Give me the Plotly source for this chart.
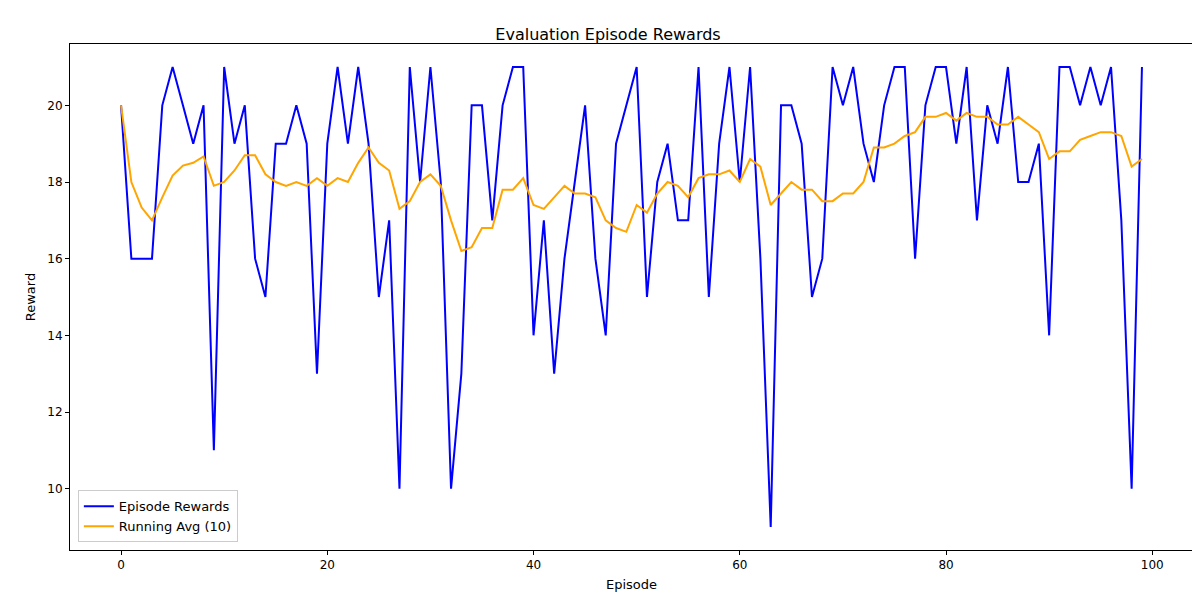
import plotly.graph_objects as go
import pandas as pd

episodes = list(range(100))
rewards = [20,16,16,16,20,21,20,19,20,11,
           21,19,20,16,15,19,19,20,19,13,
           19,21,19,21,19,15,17,10,21,18,
           21,18,10,13,20,20,17,20,21,21,
           14,17,13,16,18,20,16,14,19,20,
           21,15,18,19,17,17,21,15,19,21,
           18,21,16,9,20,20,19,15,16,21,
           20,21,19,18,20,21,21,16,20,21,
           21,19,21,17,20,19,21,18,18,19,
           14,21,21,20,21,20,21,17,10,21]
running_avg = pd.Series(rewards).rolling(10, min_periods=1).mean().tolist()

fig = go.Figure()
fig.add_trace(go.Scatter(x=episodes, y=rewards, mode="lines", name="Episode Rewards",
                         line=dict(color="blue", width=2)))
fig.add_trace(go.Scatter(x=episodes, y=running_avg, mode="lines", name="Running Avg (10)",
                         line=dict(color="orange", width=2)))
axis_common = dict(showgrid=False, zeroline=False, showline=True, mirror=True,
                   linecolor="black", linewidth=1, ticks="outside", ticklen=4,
                   tickcolor="black", tickfont=dict(size=12, color="black"),
                   automargin=False)
fig.update_layout(
    width=1200, height=600, plot_bgcolor="white", paper_bgcolor="white",
    font=dict(family="DejaVu Sans", size=12, color="black"),
    title=dict(text="Evaluation Episode Rewards", x=0.5, xanchor="center", y=0.965, font=dict(size=16)),
    margin=dict(l=62, r=15, t=36, b=58),
    xaxis=dict(range=[-4.95, 103.95], tickvals=[0,20,40,60,80,100],
               title=dict(text="Episode", font=dict(size=13), standoff=8), **axis_common),
    yaxis=dict(range=[8.4, 21.6], tickvals=[10,12,14,16,18,20],
               title=dict(text="Reward", font=dict(size=13), standoff=8), **axis_common),
    legend=dict(x=0.007, y=0.015, xanchor="left", yanchor="bottom",
                bordercolor="#cccccc", borderwidth=1, bgcolor="rgba(255,255,255,0.8)",
                font=dict(size=13)),
)
fig.write_html("out.html")
